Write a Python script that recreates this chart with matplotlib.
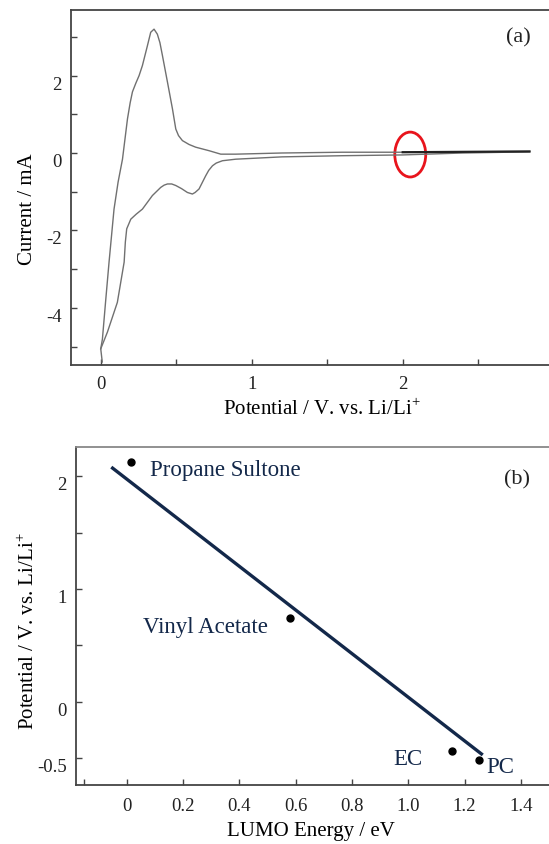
import matplotlib
matplotlib.use('Agg')
import matplotlib.pyplot as plt
from matplotlib.patches import Ellipse
import numpy as np

plt.rcParams['font.family'] = ['Liberation Serif', 'DejaVu Serif']
plt.rcParams['mathtext.fontset'] = 'custom'
plt.rcParams['mathtext.rm'] = 'Liberation Serif'
plt.rcParams['axes.unicode_minus'] = False

# (a) cyclic voltammogram
upper_v = [0.01, 0.0, 0.011, 0.033, 0.055, 0.088, 0.115, 0.144, 0.177, 0.195, 0.21,
           0.232, 0.254, 0.276, 0.309, 0.331, 0.353, 0.375, 0.392, 0.409, 0.442,
           0.475, 0.497, 0.515, 0.541, 0.585, 0.629, 0.717, 0.795, 0.894, 1.2,
           1.6, 2.0, 2.4, 2.84]
upper_i = [-5.4, -5.06, -4.81, -3.8, -2.82, -1.45, -0.75, -0.16, 0.88, 1.3, 1.58,
           1.8, 2.0, 2.26, 2.77, 3.12, 3.2, 3.07, 2.85, 2.51, 1.83,
           1.14, 0.62, 0.45, 0.32, 0.22, 0.15, 0.06, -0.03, -0.03, 0.0,
           0.02, 0.02, 0.03, 0.04]
lower_v = [2.84, 2.4, 2.0, 1.6, 1.2, 0.894, 0.806, 0.765, 0.74, 0.715, 0.695,
           0.651, 0.625, 0.607, 0.574, 0.535, 0.497, 0.47, 0.442, 0.42, 0.397,
           0.342, 0.276, 0.235, 0.199, 0.172, 0.163, 0.155, 0.11, 0.044, 0.0]
lower_i = [0.03, 0.0, -0.05, -0.07, -0.1, -0.16, -0.2, -0.26, -0.33, -0.45, -0.59,
           -0.93, -1.02, -1.06, -1.02, -0.92, -0.84, -0.80, -0.80, -0.83, -0.89,
           -1.10, -1.45, -1.58, -1.71, -1.96, -2.3, -2.82, -3.86, -4.63, -5.06]

# (b) LUMO energy vs reduction potential
names = ['Propane Sultone', 'Vinyl Acetate', 'EC', 'PC']
lumo = [0.014, 0.58, 1.157, 1.252]
potential = [2.12, 0.74, -0.43, -0.51]
fit_x = [-0.05, 1.26]
fit_y = [2.07, -0.46]

navy = '#13284a'
spine_c = '#444444'

fig = plt.figure(figsize=(5.49, 8.45), dpi=100)
ax1 = fig.add_axes([71 / 549, 1 - 366 / 845, 478 / 549, 355 / 845])
ax2 = fig.add_axes([76 / 549, 1 - 786 / 845, 473 / 549, 338 / 845])

# ---- panel (a)
ax1.plot(upper_v, upper_i, color='#707070', lw=1.0)
ax1.plot(lower_v, lower_i, color='#707070', lw=1.0)
uv = np.array(upper_v)
ui = np.array(upper_i)
m = uv >= 1.95
ax1.plot(uv[m], ui[m], color='#222222', lw=1.6)
ax1.add_patch(Ellipse((2.05, -0.04), 0.205, 1.16, fill=False,
                      edgecolor='#e8141c', lw=2))
ax1.set_xlim(-0.197, 2.969)
ax1.set_ylim(-5.478, 3.695)
ax1.set_xticks([0, 1, 2])
ax1.set_xticks([0.5, 1.5, 2.5], minor=True)
ax1.set_yticks([-4, -2, 0, 2])
ax1.set_yticks([-5, -3, -1, 1, 3], minor=True)
ax1.text(0.935, 0.924, '(a)', transform=ax1.transAxes, fontsize=16,
         ha='center', va='center', color='#222222')
ax1.set_ylabel('Current / mA', fontsize=15, va='center')
ax1.yaxis.set_label_coords(-0.09, 0.442)
ax1.set_xlabel(r'Potential / V. vs. Li/Li$^{+}$', fontsize=15, va='center')
ax1.xaxis.set_label_coords(0.525, -0.121)

# ---- panel (b)
ax2.plot(fit_x, fit_y, color=navy, lw=2.4)
ax2.plot(lumo, potential, 'o', color='black', ms=5)
offsets = {'Propane Sultone': (19, -7, 'left'), 'Vinyl Acetate': (-22, -8, 'right'),
           'EC': (-30, -8, 'right'), 'PC': (7, -7, 'left')}
for n, x, y in zip(names, lumo, potential):
    dx, dy, ha = offsets[n]
    ax2.annotate(n, (x, y), xytext=(dx, dy), textcoords='offset pixels',
                 ha=ha, va='center', fontsize=16.5, color=navy)
ax2.set_xlim(-0.18, 1.50)
ax2.set_ylim(-0.735, 2.257)
ax2.set_xticks([0, 0.2, 0.4, 0.6, 0.8, 1.0, 1.2, 1.4])
ax2.set_xticklabels(['0', '0.2', '0.4', '0.6', '0.8', '1.0', '1.2', '1.4'])
ax2.set_xticks([-0.15], minor=True)
ax2.set_yticks([-0.5, 0, 1, 2])
ax2.set_yticklabels(['-0.5', '0', '1', '2'])
ax2.set_yticks([0.5, 1.5], minor=True)
ax2.text(0.932, 0.905, '(b)', transform=ax2.transAxes, fontsize=16,
         ha='center', va='center', color='#222222')
ax2.set_ylabel(r'Potential / V. vs. Li/Li$^{+}$', fontsize=15, va='center')
ax2.yaxis.set_label_coords(-0.101, 0.457)
ax2.set_xlabel('LUMO Energy / eV', fontsize=15, va='center')
ax2.xaxis.set_label_coords(0.496, -0.136)

for ax in (ax1, ax2):
    ax.spines['right'].set_visible(False)
    for s in ('left', 'bottom', 'top'):
        ax.spines[s].set_color(spine_c)
        ax.spines[s].set_linewidth(1.3)
    ax.tick_params(which='both', direction='in', length=4, width=1,
                   color=spine_c, labelsize=13.5, labelcolor='#222222')
    ax.tick_params(axis='y', which='both', pad=6.5)
    plt.setp(ax.get_yticklabels(), va='top')
ax1.tick_params(axis='x', which='both', pad=7.5)
ax2.tick_params(axis='x', which='both', pad=9)
ax2.spines['top'].set_color('#888888')

fig.savefig('out.png', dpi=100)
